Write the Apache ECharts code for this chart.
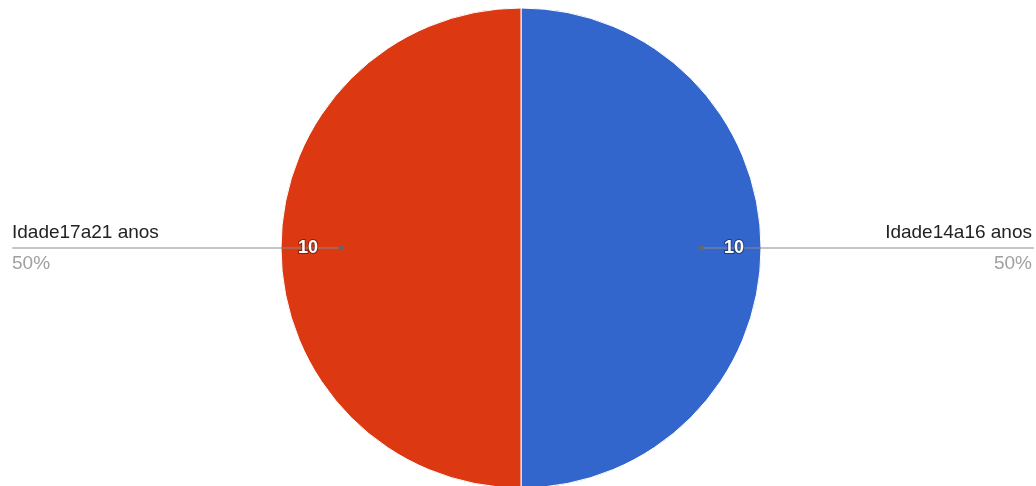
<!DOCTYPE html>
<html>
<head>
<meta charset="UTF-8">
<title>Idade</title>
<script src="https://cdn.jsdelivr.net/npm/echarts@6/dist/echarts.min.js"></script>
<style>
  html, body { margin: 0; padding: 0; background: #fff; }
  #chart { width: 1036px; height: 486px; }
</style>
</head>
<body>
<div id="chart"></div>
<script>
var categories = ['Idade14a16 anos', 'Idade17a21 anos'];
var values = [10, 10];
var colors = ['#3366cc', '#dc3912'];

var chart = echarts.init(document.getElementById('chart'));

var center = [521, 248];
var clear = { color: 'rgba(0,0,0,0)' };
// right side first, then left side
var lineEdge = [2, 12];

function pieData(extra) {
    return categories.map(function (name, i) {
        var d = { name: name, value: values[i] };
        if (extra) extra(d, i);
        return d;
    });
}

var option = {
    animation: false,
    series: [
        {
            // the pie itself
            type: 'pie',
            silent: true,
            center: center,
            radius: 240,
            startAngle: 90,
            itemStyle: { borderColor: '#fff', borderWidth: 1 },
            label: { show: false },
            labelLine: { show: false },
            data: pieData(function (d, i) { d.itemStyle = { color: colors[i] }; })
        },
        {
            // leader lines only
            type: 'pie',
            silent: true,
            z: 3,
            center: center,
            radius: 180,
            startAngle: 90,
            itemStyle: clear,
            label: {
                position: 'outside',
                alignTo: 'edge',
                edgeDistance: 3,
                distanceToLabelLine: 0,
                formatter: ' ',
                fontSize: 1
            },
            labelLine: {
                show: true,
                length: 0,
                length2: 10,
                lineStyle: { color: '#8a8a8a', width: 1 }
            },
            data: pieData(function (d, i) { d.label = { edgeDistance: lineEdge[i] }; })
        },
        {
            // value labels near the rim
            type: 'pie',
            silent: true,
            z: 4,
            center: center,
            radius: [180, 240],
            startAngle: 90,
            itemStyle: clear,
            label: {
                position: 'inside',
                formatter: '{c}',
                color: '#fff',
                fontFamily: 'Arial',
                fontWeight: 'bold',
                fontSize: 18,
                textBorderColor: 'rgba(0,0,0,0.4)',
                textBorderWidth: 2
            },
            labelLine: { show: false },
            data: pieData()
        },
        {
            // name + percent text
            type: 'pie',
            silent: true,
            z: 4,
            center: center,
            radius: 180,
            startAngle: 90,
            itemStyle: clear,
            avoidLabelOverlap: false,
            label: {
                position: 'outside',
                alignTo: 'edge',
                edgeDistance: 8,
                distanceToLabelLine: 0,
                formatter: '{n|{b}}\n{p|{d}%}',
                rich: {
                    n: { fontFamily: 'Arial', fontSize: 19, color: '#222', lineHeight: 31 },
                    p: { fontFamily: 'Arial', fontSize: 19, color: '#a0a0a0', lineHeight: 31 }
                }
            },
            labelLayout: function () {
                return { dx: 2 };
            },
            labelLine: { show: true, length: 0, length2: 10, lineStyle: { color: 'rgba(0,0,0,0)' } },
            data: pieData()
        }
    ]
};

chart.setOption(option);

// small dots where the leader lines start, taken from the line series layout
var lineData = chart.getModel().getSeriesByIndex(1).getData();
var dots = [];
lineData.each(function (idx) {
    var l = lineData.getItemLayout(idx);
    var mid = (l.startAngle + l.endAngle) / 2;
    dots.push({
        type: 'circle',
        silent: true,
        z: 10,
        shape: { cx: l.cx + Math.cos(mid) * l.r, cy: l.cy + Math.sin(mid) * l.r, r: 2.5 },
        style: { fill: '#666' }
    });
});
chart.setOption({ graphic: dots });
</script>
</body>
</html>
